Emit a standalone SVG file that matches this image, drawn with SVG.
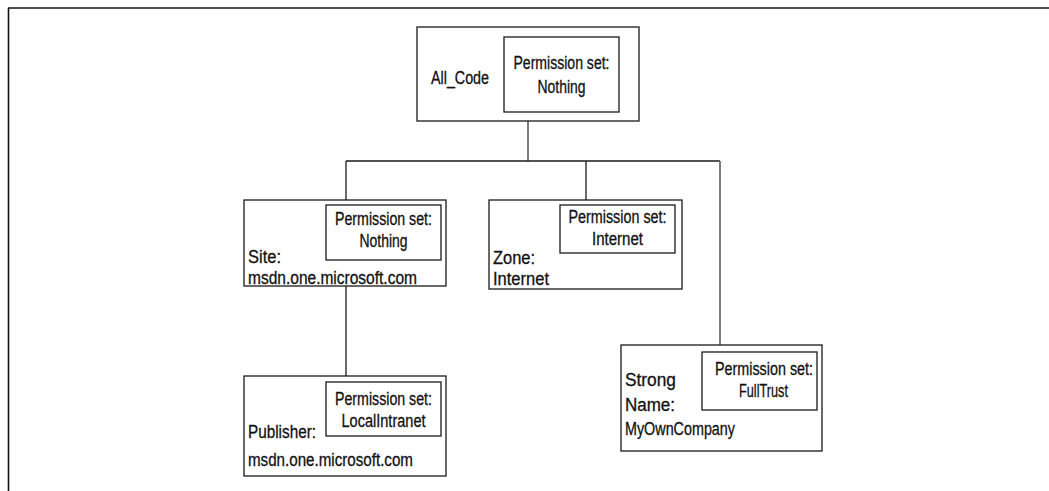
<svg xmlns="http://www.w3.org/2000/svg" width="1049" height="491" viewBox="0 0 1049 491">
  <style>
    .box { fill: #fff; stroke: #1a1a1a; stroke-width: 1.3; }
    .inner { fill: #fff; stroke: #1a1a1a; stroke-width: 1.3; }
    .wire { fill: none; stroke: #1a1a1a; stroke-width: 1.3; }
    .wire-g { fill: none; stroke: #6e6e6e; stroke-width: 1.8; }
    text { font-family: "Liberation Sans", Arial, sans-serif; fill: #111; stroke: #111; stroke-width: 0.3; }
    .ps { font-size: 18px; }
    .lbl { font-size: 18px; }
  </style>

  <!-- page frame: top rule and left rule -->
  <g id="frame">
    <line x1="8" y1="8" x2="1049" y2="8" stroke="#111" stroke-width="1.6"/>
    <line x1="8.5" y1="8" x2="8.5" y2="491" stroke="#111" stroke-width="1.6"/>
  </g>

  <!-- connectors -->
  <g id="connectors">
    <line class="wire-g" x1="528" y1="121" x2="528" y2="161"/>
    <line class="wire" x1="346" y1="161" x2="720" y2="161"/>
    <line class="wire" x1="346" y1="161" x2="346" y2="200"/>
    <line class="wire" x1="586" y1="161" x2="586" y2="200"/>
    <line class="wire-g" x1="720" y1="161" x2="720" y2="345"/>
    <line class="wire" x1="346" y1="286" x2="346" y2="376"/>
  </g>

  <!-- root code group -->
  <g id="all-code">
    <rect class="box" x="417" y="27" width="222" height="94"/>
    <rect class="inner" x="504" y="37" width="115" height="75"/>
    <text class="ps" x="561.5" y="69" text-anchor="middle" textLength="96" lengthAdjust="spacingAndGlyphs">Permission set:</text>
    <text class="ps" x="561.5" y="93" text-anchor="middle" textLength="48" lengthAdjust="spacingAndGlyphs">Nothing</text>
    <text class="lbl" x="431" y="84" textLength="58" lengthAdjust="spacingAndGlyphs">All_Code</text>
  </g>

  <!-- site membership condition -->
  <g id="site">
    <rect class="box" x="244" y="200" width="202" height="86"/>
    <rect class="inner" x="326" y="205" width="115" height="55"/>
    <text class="ps" x="383.5" y="225" text-anchor="middle" textLength="97" lengthAdjust="spacingAndGlyphs">Permission set:</text>
    <text class="ps" x="383.5" y="247" text-anchor="middle" textLength="48" lengthAdjust="spacingAndGlyphs">Nothing</text>
    <text class="lbl" x="248" y="263" textLength="33" lengthAdjust="spacingAndGlyphs">Site:</text>
    <text class="lbl" x="248" y="284" textLength="169" lengthAdjust="spacingAndGlyphs">msdn.one.microsoft.com</text>
  </g>

  <!-- zone membership condition -->
  <g id="zone">
    <rect class="box" x="489" y="200" width="193" height="89"/>
    <rect class="inner" x="560" y="205" width="115" height="48"/>
    <text class="ps" x="617.5" y="223" text-anchor="middle" textLength="98" lengthAdjust="spacingAndGlyphs">Permission set:</text>
    <text class="ps" x="617.5" y="245" text-anchor="middle" textLength="51" lengthAdjust="spacingAndGlyphs">Internet</text>
    <text class="lbl" x="493" y="264" textLength="42" lengthAdjust="spacingAndGlyphs">Zone:</text>
    <text class="lbl" x="493" y="285" textLength="56" lengthAdjust="spacingAndGlyphs">Internet</text>
  </g>

  <!-- publisher membership condition -->
  <g id="publisher">
    <rect class="box" x="244" y="376" width="202" height="100"/>
    <rect class="inner" x="326" y="382" width="115" height="54"/>
    <text class="ps" x="383.5" y="405" text-anchor="middle" textLength="97" lengthAdjust="spacingAndGlyphs">Permission set:</text>
    <text class="ps" x="383.5" y="427" text-anchor="middle" textLength="84" lengthAdjust="spacingAndGlyphs">LocalIntranet</text>
    <text class="lbl" x="248" y="438" textLength="68" lengthAdjust="spacingAndGlyphs">Publisher:</text>
    <text class="lbl" x="248" y="466" textLength="165" lengthAdjust="spacingAndGlyphs">msdn.one.microsoft.com</text>
  </g>

  <!-- strong name membership condition -->
  <g id="strong-name">
    <rect class="box" x="621" y="345" width="201" height="106"/>
    <rect class="inner" x="702" y="352" width="115" height="58"/>
    <text class="ps" x="764" y="375" text-anchor="middle" textLength="98" lengthAdjust="spacingAndGlyphs">Permission set:</text>
    <text class="ps" x="763.5" y="397" text-anchor="middle" textLength="49" lengthAdjust="spacingAndGlyphs">FullTrust</text>
    <text class="lbl" x="625" y="386" textLength="51" lengthAdjust="spacingAndGlyphs">Strong</text>
    <text class="lbl" x="625" y="411" textLength="50" lengthAdjust="spacingAndGlyphs">Name:</text>
    <text class="lbl" x="625" y="435" textLength="110" lengthAdjust="spacingAndGlyphs">MyOwnCompany</text>
  </g>
</svg>
